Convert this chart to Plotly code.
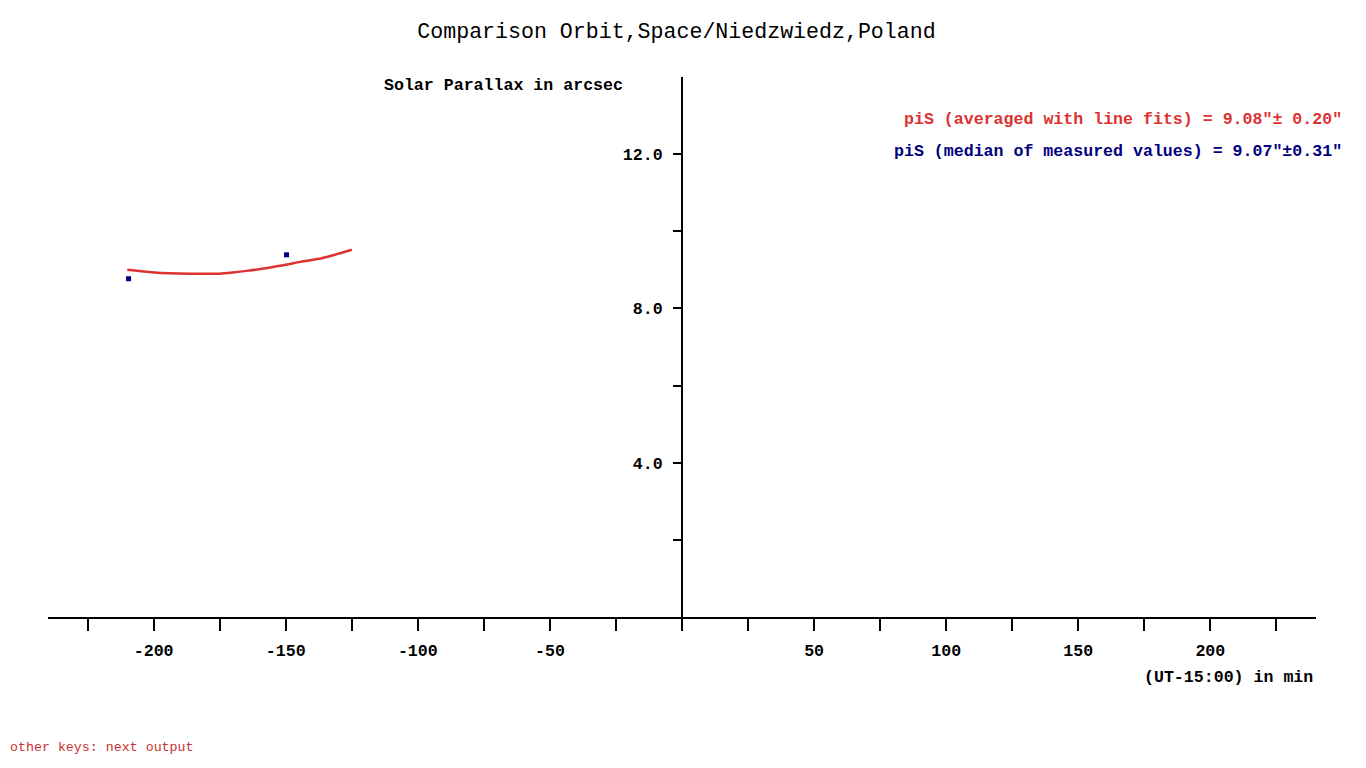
import plotly.graph_objects as go

# Fitted curve
fit_x = [-210, -201, -194, -185, -175, -170, -164, -157, -150, -145, -138, -132, -125]
fit_y = [9.00, 8.94, 8.91, 8.90, 8.90, 8.93, 8.98, 9.05, 9.13, 9.20, 9.28, 9.38, 9.52]

# Measured values
meas_x = [-209.5, -149.7]
meas_y = [8.77, 9.39]

x_tick_vals = list(range(-225, 226, 25))
x_tick_text = [str(v) if (v % 50 == 0 and v != 0) else "" for v in x_tick_vals]
y_tick_vals = [2, 4, 6, 8, 10, 12]
y_tick_text = ["", "4.0", "", "8.0", "", "12.0"]

RED = "#dc3232"
NAVY = "#000080"
FONT = "Liberation Mono, Courier New, monospace"
FS = 16.6

fig = go.Figure()
fig.add_trace(go.Scatter(x=fit_x, y=fit_y, mode="lines",
                         line=dict(color=RED, width=2.5, shape="spline"),
                         showlegend=False))
fig.add_trace(go.Scatter(x=meas_x, y=meas_y, mode="markers",
                         marker=dict(color=NAVY, size=5, symbol="square"),
                         showlegend=False))

# page offset of 8px (body margin)
fig.update_layout(
    width=1366, height=768,
    margin=dict(l=40, r=58, t=69, b=159),
    paper_bgcolor="white", plot_bgcolor="white",
    title=dict(text="Comparison Orbit,Space/Niedzwiedz,Poland",
               x=668.5 / 1366, xanchor="center", y=1 - 22 / 768, yanchor="middle",
               font=dict(family=FONT, size=21.6, color="black")),
    xaxis=dict(range=[-240, 240], showgrid=False, zeroline=False,
               showline=True, linewidth=2, linecolor="black",
               ticks="outside", ticklen=12, tickwidth=2, tickcolor="black",
               tickvals=x_tick_vals, ticktext=x_tick_text,
               ticklabelstandoff=5,
               tickfont=dict(family=FONT, size=FS, color="black", weight="bold")),
    yaxis=dict(range=[0, 14], showgrid=False, zeroline=False,
               anchor="free", position=0.5,
               showline=True, linewidth=2, linecolor="black",
               ticks="outside", ticklen=8, tickwidth=2, tickcolor="black",
               tickvals=y_tick_vals, ticktext=y_tick_text,
               ticklabelstandoff=7,
               tickfont=dict(family=FONT, size=FS, color="black", weight="bold")),
    showlegend=False,
)

ann = [
    dict(text="Solar Parallax in arcsec", x=(382 - 48) / 1268, y=(617 - 85) / 540,
         xanchor="left", color="black", size=FS, bold=True),
    dict(text='piS (averaged with line fits) = 9.08"± 0.20"', x=(1344 - 48) / 1268,
         y=(617 - 120) / 540, xanchor="right", color=RED, size=FS, bold=True),
    dict(text='piS (median of measured values) = 9.07"±0.31"', x=(1344 - 48) / 1268,
         y=(617 - 152) / 540, xanchor="right", color=NAVY, size=FS, bold=True),
    dict(text="(UT-15:00) in min", x=(1315 - 48) / 1268, y=(617 - 677) / 540,
         xanchor="right", color="black", size=FS, bold=True),
    dict(text="other keys: next output", x=(8 - 48) / 1268, y=(617 - 748) / 540,
         xanchor="left", color="#c83232", size=13.3, bold=False),
]
for a in ann:
    fig.add_annotation(text=a["text"], x=a["x"], y=a["y"], xref="paper", yref="paper",
                       xanchor=a["xanchor"], yanchor="middle", showarrow=False,
                       font=dict(family=FONT, size=a["size"], color=a["color"],
                                 weight="bold" if a["bold"] else "normal"))

fig.write_html("out.html")
